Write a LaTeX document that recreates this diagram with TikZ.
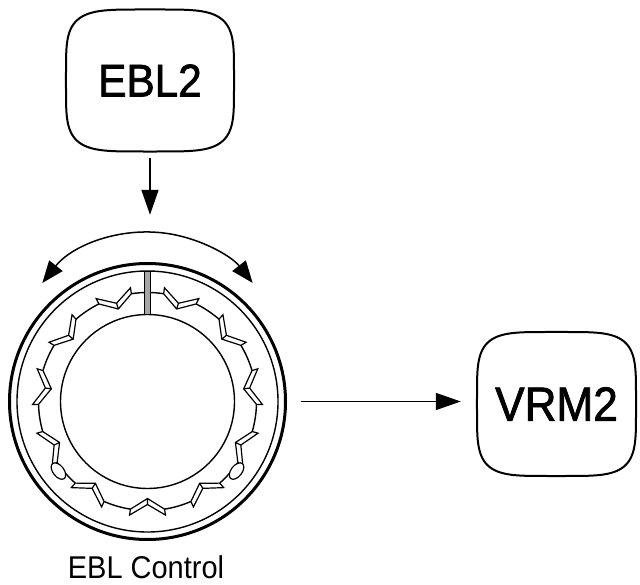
\documentclass[tikz,border=0pt]{standalone}
\usepackage{fontspec}
\setmainfont{Liberation Sans}[FakeStretch=0.92]
\newfontfamily\screenfont{Liberation Sans}[FakeStretch=0.92, FakeBold=1.6]
\usetikzlibrary{arrows.meta,calc}

% rounded "screen" outline (a superellipse) drawn round a node's centre
\newcommand\screenoutline[3]{%
  \draw[outline, shift={(#1.center)}]
    plot[domain=0.01:89.99, samples=40] ({#2*cos(\x)^0.44},{#3*sin(\x)^0.44})
    -- plot[domain=90.01:179.99, samples=40] ({-#2*(-cos(\x))^0.44},{#3*sin(\x)^0.44})
    -- plot[domain=180.01:269.99, samples=40] ({-#2*(-cos(\x))^0.44},{-#3*(-sin(\x))^0.44})
    -- plot[domain=270.01:359.99, samples=40] ({#2*cos(\x)^0.44},{-#3*(-sin(\x))^0.44})
    -- cycle;}

\begin{document}
\begin{tikzpicture}[x=1pt,y=1pt,
  outline/.style={line width=2pt, line join=round},
  screentext/.style={inner sep=0pt, text depth=0pt},
  link/.style={line width=1.6pt, -{Triangle[length=25pt,width=17pt]}},
  swingarrow/.style={line width=1.5pt, {Triangle[length=22pt,width=17pt]}-{Triangle[length=22pt,width=17pt]}},
  rim/.style={line width=1.4pt},
  ridge/.style={line width=1.2pt, line join=miter},
]
\useasboundingbox (0,0) rectangle (640,584);

% nodes
\node[screentext, minimum width=168pt, minimum height=142pt,
      font=\screenfont\fontsize{46}{46}\selectfont] (ebl) at (150,503.5) {EBL2};
\node[screentext, minimum width=159pt, minimum height=144pt,
      font=\screenfont\fontsize{48}{48}\selectfont] (vrm) at (556.5,180) {VRM2};
\node[circle, minimum size=276pt, inner sep=0pt] (knob) at (147.5,182.5) {};
\node[anchor=base, inner sep=0pt, font=\fontsize{31.5}{31.5}\selectfont]
      (ctl) at (146,5.7) {EBL Control};

\screenoutline{ebl}{84}{71}
\screenoutline{vrm}{79.5}{72}

% knob: bezel rings and dial face
\draw[line width=3pt] (knob.center) circle[radius=138];
\draw[rim] (knob.center) circle[radius=130.5];
\draw[rim] (knob.center) circle[radius=87];

% ridged grip ring between the notches
\begin{scope}[shift={(knob.center)}]
  \foreach \s/\e in {16.5/31, 49/63.5, 81.5/98.5, 116.5/131, 149/163.5,
                     181.5/196, 214/215, 221/228.5, 246.5/261, 279/293.5,
                     311.5/319, 325/326, 344/358.5}
    \draw[rim] (\s:109) arc[start angle=\s, end angle=\e, radius=109];
\end{scope}

% chevron notches
\foreach \a in {7.5,40,72.5,107.5,140,172.5,205,237.5,270,302.5,335}
  \draw[ridge, shift={(knob.center)}, rotate=\a-90]
    (81:109) -- (81:115) -- (90:103) -- (99:115) -- (99:109) -- (90:97) -- cycle
    (90:97) -- (90:103);

% oval grips
\foreach \a in {218,322}
  \draw[ridge, fill=white, shift={(knob.center)}, rotate=\a]
    (113,0) ellipse[x radius=5.5, y radius=9.5];

% pointer
\draw[line width=0.8pt, fill=black!35, shift={(knob.center)}] (-3,87) rectangle (3,130);

% turning direction
\coordinate (swing) at ($(knob.center)+(0,35.5)$);
\draw[swingarrow] ($(swing)+(141.7:134)$) arc[start angle=141.7, end angle=38.3, radius=134];

% connectors
\draw[link, shorten <=6pt, shorten >=48.5pt] (ebl.south) -- (ebl.south |- knob.north);
\draw[link, shorten <=15pt, shorten >=16pt] (knob.east) -- (knob.east -| vrm.west);
\end{tikzpicture}
\end{document}
